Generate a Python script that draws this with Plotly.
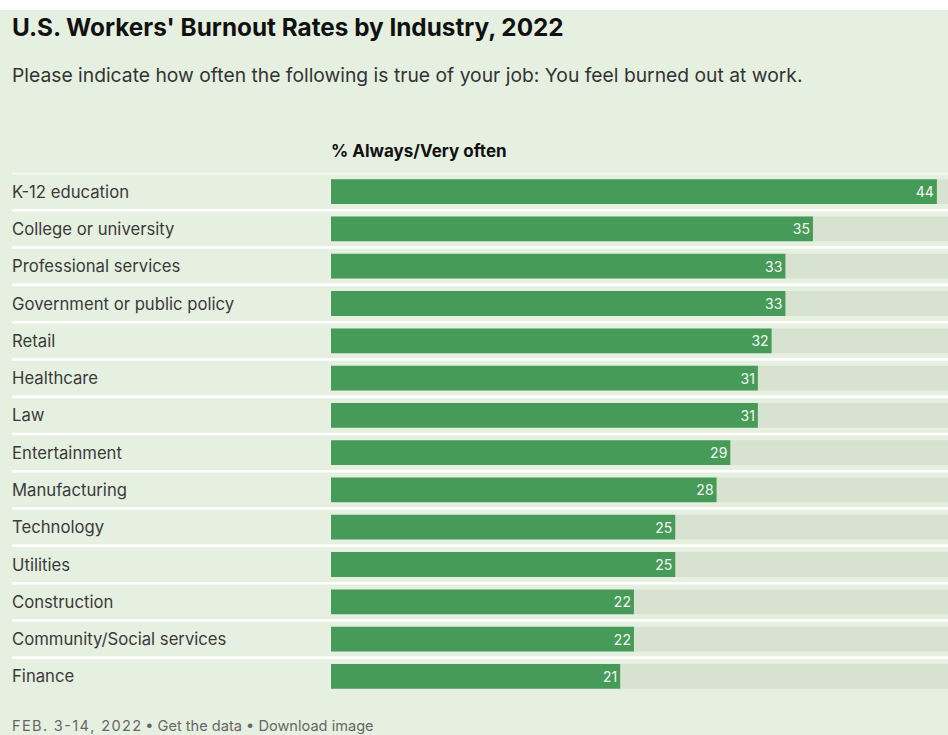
import plotly.graph_objects as go

categories = ["K-12 education", "College or university", "Professional services",
              "Government or public policy", "Retail", "Healthcare", "Law",
              "Entertainment", "Manufacturing", "Technology", "Utilities",
              "Construction", "Community/Social services", "Finance"]
values = [44, 35, 33, 33, 32, 31, 31, 29, 28, 25, 25, 22, 22, 21]
track_max = 45

W, H = 948, 735
L, R, T, B = 331, 0, 173, 40
pw, ph = W - L - R, H - T - B
x_max = pw / 13.77

def px_x(x):
    return (x - L) / pw

def px_y(y):
    return 1 - (y - T) / ph

BG = "#e6f0e1"
GREEN = "#469b59"
TRACK = "#d7e2d1"
FONT = "Inter, Lato, sans-serif"

fig = go.Figure()
fig.add_trace(go.Bar(
    y=categories, x=[track_max] * len(categories), orientation="h",
    marker=dict(color=TRACK, line=dict(width=0)), width=0.665,
    hoverinfo="skip", showlegend=False))
fig.add_trace(go.Bar(
    y=categories, x=values, orientation="h",
    marker=dict(color=GREEN, line=dict(width=0)), width=0.665,
    text=[str(v) for v in values], textposition="inside", insidetextanchor="end",
    textfont=dict(color="#f3f7f1", size=14, family=FONT),
    showlegend=False))

shapes = [dict(type="rect", xref="paper", yref="paper", x0=px_x(0), x1=px_x(W),
               y0=px_y(10), y1=px_y(0), fillcolor="white", line=dict(width=0), layer="below")]
for i in range(len(categories)):
    shapes.append(dict(type="line", xref="paper", yref="y", x0=px_x(12), x1=1,
                       y0=i - 0.5, y1=i - 0.5, line=dict(color="white", width=2.5), layer="below"))

TX = 10
annotations = []
for c in categories:
    annotations.append(dict(xref="paper", yref="y", x=px_x(TX), y=c, text=c, showarrow=False,
                            xanchor="left", yanchor="middle",
                            font=dict(size=16.7, color="#3a3a3a", family=FONT)))
hs = "\u200a"
date_txt = hs.join("FEB. 3-14, 2022")
annotations += [
    dict(xref="paper", yref="paper", x=px_x(TX), y=px_y(27), text="<b>U.S. Workers' Burnout Rates by Industry, 2022</b>",
         showarrow=False, xanchor="left", yanchor="middle", font=dict(size=24.3, color="#111", family=FONT)),
    dict(xref="paper", yref="paper", x=px_x(TX), y=px_y(75),
         text="Please indicate how often the following is true of your job: You feel burned out at work.",
         showarrow=False, xanchor="left", yanchor="middle", font=dict(size=19.3, color="#333", family=FONT)),
    dict(xref="paper", yref="paper", x=px_x(329), y=px_y(151), text="<b>% Always/Very often</b>",
         showarrow=False, xanchor="left", yanchor="middle", font=dict(size=17, color="#111", family=FONT)),
    dict(xref="paper", yref="paper", x=px_x(TX), y=px_y(726),
         text=date_txt + " • Get the data • Download image",
         showarrow=False, xanchor="left", yanchor="middle", font=dict(size=14.6, color="#666", family=FONT)),
]

fig.update_layout(
    width=W, height=H, margin=dict(l=L, r=R, t=T, b=B),
    paper_bgcolor=BG, plot_bgcolor=BG, barmode="overlay",
    xaxis=dict(range=[0, x_max], visible=False, fixedrange=True),
    yaxis=dict(visible=False, fixedrange=True),
    shapes=shapes, annotations=annotations,
    uniformtext=dict(minsize=10, mode="show"),
)
fig.update_yaxes(range=[len(categories) - 0.5, -0.5], autorange=False)
fig.write_html("out.html", config={"displayModeBar": False},
               post_script="document.body.style.margin='0';document.body.style.overflow='hidden';")
